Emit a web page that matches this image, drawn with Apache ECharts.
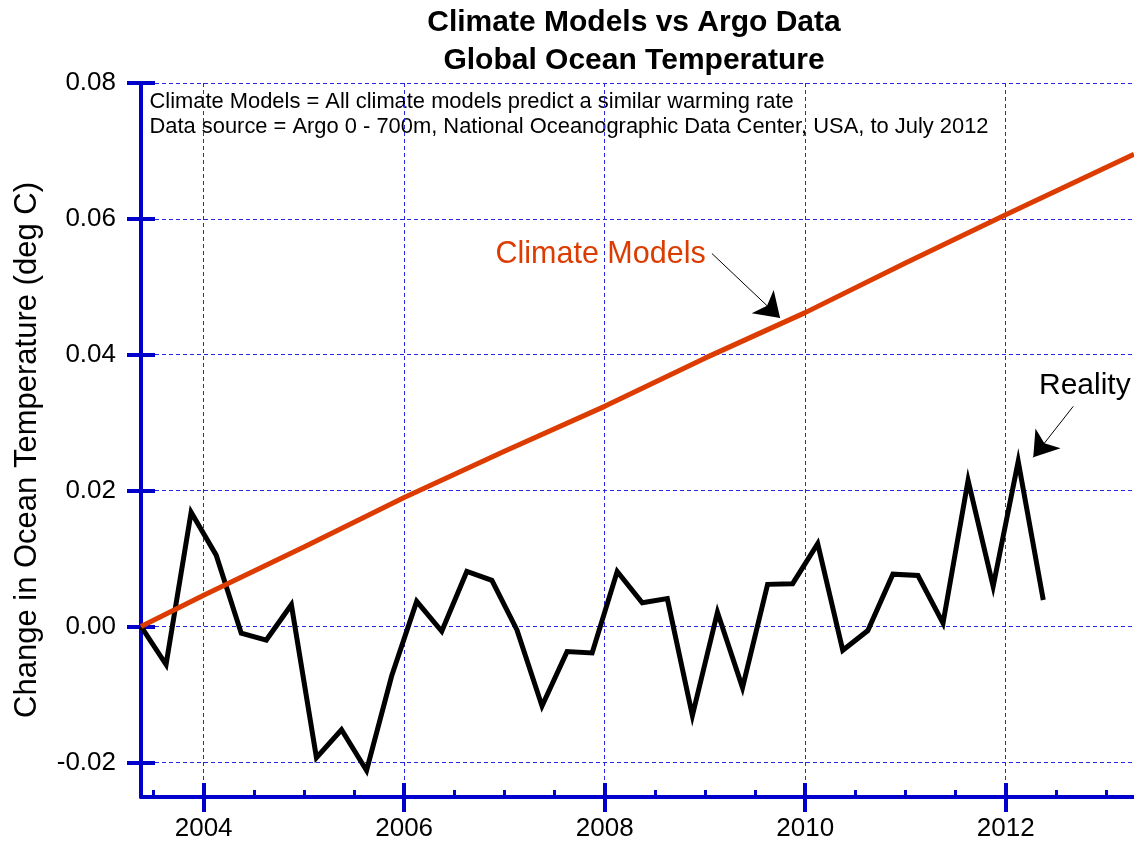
<!DOCTYPE html>
<html>
<head>
<meta charset="utf-8">
<script src="https://cdn.jsdelivr.net/npm/echarts@6/dist/echarts.min.js"></script>
<style>
html,body{margin:0;padding:0;background:#fff;}
#chart{width:1134px;height:842px;}
</style>
</head>
<body>
<div id="chart"></div>
<script>
// ---- data ----
const argoYears = [2003.375, 2003.625, 2003.875, 2004.125, 2004.375, 2004.625, 2004.875,
  2005.125, 2005.375, 2005.625, 2005.875, 2006.125, 2006.375, 2006.625, 2006.875,
  2007.125, 2007.375, 2007.625, 2007.875, 2008.125, 2008.375, 2008.625, 2008.875,
  2009.125, 2009.375, 2009.625, 2009.875, 2010.125, 2010.375, 2010.625, 2010.875,
  2011.125, 2011.375, 2011.625, 2011.875, 2012.125, 2012.375];
const argoValues = [0.0000, -0.0056, 0.0168, 0.0105, -0.0010, -0.0020, 0.0032,
  -0.0193, -0.0152, -0.0212, -0.0073, 0.0037, -0.0007, 0.0081, 0.0068,
  -0.0005, -0.0117, -0.0037, -0.0039, 0.0081, 0.0035, 0.0041, -0.0131,
  0.0021, -0.0090, 0.0062, 0.0063, 0.0122, -0.0035, -0.0006, 0.0077,
  0.0075, 0.0005, 0.0215, 0.0059, 0.0243, 0.0039];
const modelYears = [2003.375, 2004, 2005, 2006, 2007, 2008, 2009, 2010, 2011, 2012, 2013.28];
const modelValues = [0.0000, 0.0046, 0.0117, 0.0190, 0.0258, 0.0324, 0.0395, 0.0462, 0.0535, 0.0606, 0.0695];
const xMajorTicks = [2004, 2006, 2008, 2010, 2012];
const xMinorTicks = [2003.5, 2004.5, 2005, 2005.5, 2006.5, 2007, 2007.5, 2008.5, 2009, 2009.5,
  2010.5, 2011, 2011.5, 2012.5, 2013];
const yTicks = [-0.02, 0.00, 0.02, 0.04, 0.06, 0.08];
const titleLines = ['Climate Models vs Argo Data', 'Global Ocean Temperature'];
const infoLines = ['Climate Models = All climate models predict a similar warming rate',
  'Data source = Argo 0 - 700m, National Oceanographic Data Center, USA, to July 2012'];
const modelArrow = [[2009.07, 0.0549], [2009.75, 0.0454]];
const realityArrow = [[2012.674, 0.0324], [2012.275, 0.0249]];

// ---- chart ----
const FONT = '"Liberation Sans", Arial, Helvetica, sans-serif';
const BLUE = '#0000cc';
const GRID = '#2828e6';
const RED = '#dc3c00';
const X_MIN = 2003.375, X_MAX = 2013.28;
const Y_MIN = -0.0251, Y_MAX = 0.08;

const chart = echarts.init(document.getElementById('chart'), null, {renderer: 'canvas'});

function xAxisBase(extra) {
  return Object.assign({
    type: 'value', min: X_MIN, max: X_MAX, position: 'bottom', offset: 0,
    axisLine: {show: false, onZero: false}, axisLabel: {show: false}, splitLine: {show: false},
    axisTick: {show: false}
  }, extra);
}
function yAxisBase(extra) {
  return Object.assign({
    type: 'value', min: Y_MIN, max: Y_MAX, position: 'left', offset: 0,
    axisLine: {show: false, onZero: false}, axisLabel: {show: false}, splitLine: {show: false},
    axisTick: {show: false}
  }, extra);
}

const option = {
  animation: false,
  backgroundColor: '#ffffff',
  grid: {left: 141, right: 0, top: 83, bottom: 40, containLabel: false},
  xAxis: [
    xAxisBase({
      axisLine: {show: true, onZero: false, lineStyle: {color: BLUE, width: 4}},
      axisTick: {show: true, customValues: xMajorTicks, inside: false, length: 15,
        lineStyle: {color: BLUE, width: 4}},
      axisLabel: {show: true, customValues: xMajorTicks, margin: 19, color: '#000',
        fontSize: 26, fontFamily: FONT, formatter: v => String(v)},
      splitLine: {show: true, lineStyle: {color: GRID, width: 1, type: [4, 3]}}
    }),
    xAxisBase({
      axisTick: {show: true, customValues: xMajorTicks, inside: true, length: 14,
        lineStyle: {color: BLUE, width: 4}}
    }),
    xAxisBase({
      axisTick: {show: true, customValues: xMinorTicks, inside: true, length: 7,
        lineStyle: {color: BLUE, width: 3}}
    })
  ],
  yAxis: [
    yAxisBase({
      axisLine: {show: true, onZero: false, lineStyle: {color: BLUE, width: 4}},
      axisTick: {show: true, customValues: yTicks, inside: false, length: 14,
        lineStyle: {color: BLUE, width: 4}},
      axisLabel: {show: true, customValues: yTicks, margin: 25, color: '#000',
        fontSize: 26, fontFamily: FONT, formatter: v => v.toFixed(2)},
      splitLine: {show: true, lineStyle: {color: GRID, width: 1, type: [4, 3]}}
    }),
    yAxisBase({
      axisTick: {show: true, customValues: yTicks, inside: true, length: 14,
        lineStyle: {color: BLUE, width: 4}}
    })
  ],
  series: [
    {
      name: 'Reality', type: 'line', xAxisIndex: 0, yAxisIndex: 0,
      data: argoYears.map((x, i) => [x, argoValues[i]]),
      showSymbol: false, symbol: 'none', smooth: false,
      lineStyle: {color: '#000', width: 5, join: 'miter'},
      z: 3,
      markLine: {
        silent: true, symbol: ['none', 'arrow'], symbolSize: 24,
        label: {show: false},
        lineStyle: {color: '#000', width: 1, type: 'solid'},
        data: [[{coord: realityArrow[0]}, {coord: realityArrow[1]}]]
      }
    },
    {
      name: 'Climate Models', type: 'line', xAxisIndex: 0, yAxisIndex: 0,
      data: modelYears.map((x, i) => [x, modelValues[i]]),
      showSymbol: false, symbol: 'none', smooth: false,
      lineStyle: {color: RED, width: 5},
      z: 4,
      markLine: {
        silent: true, symbol: ['none', 'arrow'], symbolSize: 24,
        label: {show: false},
        lineStyle: {color: '#000', width: 1, type: 'solid'},
        data: [[{coord: modelArrow[0]}, {coord: modelArrow[1]}]]
      }
    }
  ],
  graphic: [
    {type: 'text', x: 634, y: 22.5, style: {text: titleLines[0], font: 'bold 30px ' + FONT,
      fill: '#000', align: 'center', verticalAlign: 'middle'}},
    {type: 'text', x: 634, y: 60.5, style: {text: titleLines[1], font: 'bold 30px ' + FONT,
      fill: '#000', align: 'center', verticalAlign: 'middle'}},
    {type: 'text', x: 149.5, y: 102, style: {text: infoLines[0], font: '21.9px ' + FONT,
      fill: '#000', align: 'left', verticalAlign: 'middle'}},
    {type: 'text', x: 149.5, y: 127, style: {text: infoLines[1], font: '21.9px ' + FONT,
      fill: '#000', align: 'left', verticalAlign: 'middle'}},
    {type: 'text', x: 495.5, y: 254.5, style: {text: 'Climate Models', font: '30.5px ' + FONT,
      fill: RED, align: 'left', verticalAlign: 'middle'}},
    {type: 'text', x: 1039, y: 385.5, style: {text: 'Reality', font: '30px ' + FONT,
      fill: '#000', align: 'left', verticalAlign: 'middle'}},
    {type: 'text', x: 27, y: 450, rotation: Math.PI / 2,
      style: {text: 'Change in Ocean Temperature (deg C)', font: '31px ' + FONT,
      fill: '#000', align: 'center', verticalAlign: 'middle'}}
  ]
};
chart.setOption(option);
</script>
</body>
</html>
